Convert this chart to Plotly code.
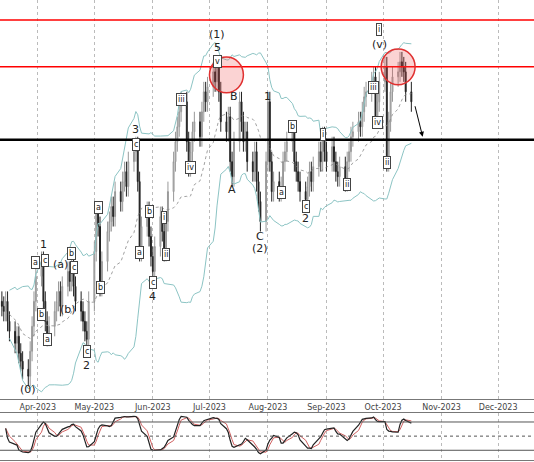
import pandas as pd
import plotly.graph_objects as go
from plotly.subplots import make_subplots

# daily closes (arbitrary price units), business days from 2023-03-13
closes = [155, 150, 160, 140, 130, 118, 125, 108, 100, 92, 85,
          110, 135, 160, 185, 200,
          160, 140, 125, 135, 150,
          160, 170, 155, 175, 190, 180, 200,
          175, 160, 150, 140, 130, 122,
          160, 210, 250, 235, 175,
          200, 230, 240, 255, 245, 270,
          260, 280, 290, 275, 300, 310, 315,
          280, 210, 235, 250, 225, 205, 190,
          215, 245, 230, 210, 240, 270, 300,
          320, 335, 350, 360,
          320, 295, 310,
          330, 340, 325, 350, 370, 360, 375, 390, 380, 395,
          370, 340, 330, 345, 300, 285, 320, 360,
          340, 320, 330, 300, 290, 310, 280, 260, 240,
          300, 360, 300, 270, 280, 270,
          275, 300, 310, 320, 330,
          300, 290, 280, 270, 262,
          275, 290, 280, 295, 310, 300, 325,
          310, 300, 315, 300, 290, 285, 295, 280,
          300, 310, 325, 330, 340, 335, 350, 365, 370, 380,
          385, 345, 360, 380, 395, 300,
          340, 370, 385, 390, 400, 395, 390, 370, 360]
wick = 10
dates = pd.bdate_range("2023-03-13", periods=len(closes))

# wave labels: (text, bar index, price, circled)
labels = [("(0)", 10, 72, False), ("1", 16, 217, False), ("a", 14, 199, True), ("c", 17, 201, True),
          ("b", 15, 147, True), ("a", 18, 122, True), ("(a)", 23, 197, False), ("b", 27, 208, True),
          ("c", 28, 194, True), ("(b)", 25, 152, False), ("c", 33, 110, True), ("2", 33, 96, False),
          ("a", 37, 254, True), ("b", 38, 174, True), ("3", 51, 332, False), ("c", 51, 317, True),
          ("a", 53, 209, True), ("b", 56, 250, True), ("c", 58, 179, True), ("4", 58, 165, False),
          ("i", 62, 244, True), ("ii", 63, 207, True), ("iii", 69, 362, True), ("iv", 72, 294, True),
          ("(1)", 82, 427, False), ("5", 82, 414, False), ("v", 82, 400, True),
          ("B", 89, 365, False), ("A", 88, 272, False), ("1", 101, 365, False),
          ("C", 99, 225, False), ("(2)", 99, 213, False), ("a", 106, 269, True), ("b", 110, 335, True),
          ("c", 115, 255, True), ("2", 115, 243, False), ("i", 122, 327, True), ("ii", 131, 277, True),
          ("iii", 141, 374, True), ("iv", 143, 339, True), ("ii", 146, 299, True),
          ("(v)", 144, 417, False), ("i", 144, 432, True)]
levels = [442, 395, 322]
circles = [(85, 387), (150, 395)]

df = pd.DataFrame({"close": closes}, index=dates)
df["open"] = df["close"].shift(1).fillna(df["close"].iloc[0] + 5)
df["high"] = df[["open", "close"]].max(axis=1) + wick
df["low"] = df[["open", "close"]].min(axis=1) - wick
mid = df["close"].rolling(20, min_periods=5).mean()
sd = df["close"].rolling(20, min_periods=5).std()
lo14 = df["low"].rolling(14, min_periods=3).min()
hi14 = df["high"].rolling(14, min_periods=3).max()
k = (100 * (df["close"] - lo14) / (hi14 - lo14)).rolling(5, min_periods=1).mean()
d = k.rolling(3, min_periods=1).mean()

fig = make_subplots(rows=2, cols=1, shared_xaxes=True)
fig.add_trace(go.Scatter(x=dates, y=mid + 2 * sd, mode="lines", line=dict(color="#8cc4c4", width=1)), 1, 1)
fig.add_trace(go.Scatter(x=dates, y=mid - 2 * sd, mode="lines", line=dict(color="#8cc4c4", width=1)), 1, 1)
fig.add_trace(go.Scatter(x=dates, y=mid, mode="lines", line=dict(color="#888", width=0.8, dash="dot")), 1, 1)
fig.add_trace(go.Candlestick(x=dates, open=df["open"], high=df["high"], low=df["low"], close=df["close"],
                             increasing=dict(line=dict(color="#999", width=1), fillcolor="#bbb"),
                             decreasing=dict(line=dict(color="#222", width=1), fillcolor="#222"),
                             whiskerwidth=0), 1, 1)
fig.add_trace(go.Scatter(x=dates, y=d, mode="lines", line=dict(color="#d06060", width=1)), 2, 1)
fig.add_trace(go.Scatter(x=dates, y=k, mode="lines", line=dict(color="#222", width=1.2)), 2, 1)

for lv, col, w in zip(levels, ["red", "red", "black"], [1.5, 1.5, 2.5]):
    fig.add_hline(y=lv, line=dict(color=col, width=w), row=1, col=1)
for i, p in circles:
    x0 = dates[i] - pd.Timedelta(days=9)
    x1 = dates[i] + pd.Timedelta(days=9)
    fig.add_shape(type="circle", x0=x0, x1=x1, y0=p - 18, y1=p + 18, xref="x", yref="y",
                  line=dict(color="#e03030", width=1.5), fillcolor="rgba(240,80,80,0.25)")
for t, i, p, circ in labels:
    fig.add_annotation(x=dates[i], y=p, text=t, showarrow=False, xref="x", yref="y",
                       font=dict(size=8 if circ else 11, color="#222"),
                       bordercolor="#444" if circ else None, borderwidth=1 if circ else 0,
                       borderpad=1, bgcolor="white" if circ else None)
fig.add_annotation(x=dates[-1] + pd.Timedelta(days=6), y=325, ax=-8, ay=-32, xref="x", yref="y",
                   showarrow=True, arrowhead=2, arrowwidth=1, arrowcolor="black", text="")
for lv, dash in [(80, "solid"), (50, "dot"), (20, "solid")]:
    fig.add_hline(y=lv, line=dict(color="#555", width=1, dash=dash), row=2, col=1)

fig.update_xaxes(range=["2023-03-12", "2023-12-20"], dtick="M1", tickformat="%b-%Y",
                 showgrid=True, gridcolor="#bbb", griddash="dot", gridwidth=1,
                 rangeslider_visible=False, tickfont=dict(size=8, color="#444"),
                 showline=True, linecolor="#777", mirror=True)
fig.update_xaxes(showticklabels=True, ticks="", row=1, col=1)
fig.update_xaxes(showticklabels=False, row=2, col=1)
fig.update_yaxes(showticklabels=False, showgrid=False, showline=True, linecolor="#777", mirror=True, zeroline=False)
fig.update_yaxes(range=[62, 462], domain=[0.136, 1], row=1, col=1)
fig.update_yaxes(range=[0, 100], domain=[0.005, 0.107], row=2, col=1)
fig.update_layout(width=534, height=462, margin=dict(l=0, r=0, t=0, b=0, autoexpand=False), showlegend=False,
                  plot_bgcolor="white", paper_bgcolor="white", font=dict(family="DejaVu Sans"))
fig.write_html("out.html", post_script="document.body.style.margin='0';",
               config={"displayModeBar": False})
